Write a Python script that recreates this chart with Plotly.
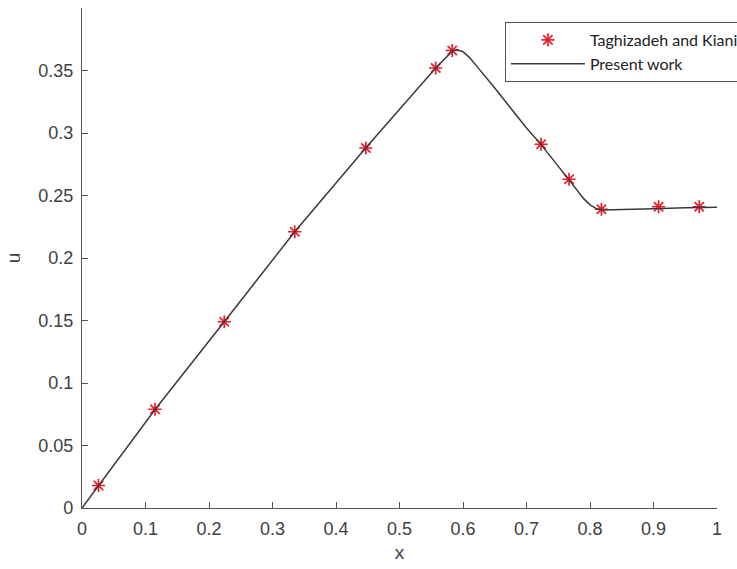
import plotly.graph_objects as go

# Reference data (Taghizadeh and Kiani)
ref_x = [0.026, 0.115, 0.224, 0.335, 0.447, 0.557, 0.583, 0.723, 0.767, 0.818, 0.908, 0.972]
ref_u = [0.018, 0.079, 0.149, 0.221, 0.288, 0.352, 0.366, 0.291, 0.263, 0.239, 0.241, 0.241]

# Present work solution
sol_x = [0.0, 0.026, 0.115, 0.224, 0.335, 0.447, 0.557, 0.583, 0.590, 0.600, 0.610,
         0.620, 0.650, 0.700, 0.723, 0.767, 0.790, 0.800, 0.810, 0.820, 0.850, 0.900,
         0.950, 1.0]
sol_u = [0.0, 0.0178, 0.0788, 0.1490, 0.2210, 0.2882, 0.3520, 0.3655, 0.3668, 0.3650,
         0.3605, 0.3545, 0.3360, 0.3040, 0.2907, 0.2625, 0.2475, 0.2425, 0.2395, 0.2385,
         0.2387, 0.2395, 0.2402, 0.2407]

x_ticks = [0, 0.1, 0.2, 0.3, 0.4, 0.5, 0.6, 0.7, 0.8, 0.9, 1]
y_ticks = [0, 0.05, 0.1, 0.15, 0.2, 0.25, 0.3, 0.35]

fig = go.Figure()
fig.add_trace(go.Scatter(
    x=ref_x, y=ref_u, mode="markers", name="Taghizadeh and Kiani",
    marker=dict(symbol="asterisk-open", size=11, color="#e8202a",
                line=dict(color="#e8202a", width=1.7)),
))
fig.add_trace(go.Scatter(
    x=sol_x, y=sol_u, mode="lines", name="Present work",
    line=dict(color="#3a3a3a", width=1.5),
))

axis_common = dict(
    showgrid=False, zeroline=False, showline=True, linecolor="#555555", linewidth=1.2,
    ticks="inside", ticklen=6, tickcolor="#555555", ticklabelstandoff=4,
    tickfont=dict(family="Liberation Sans, Arial", size=18, color="#404040"),
    title_font=dict(family="Liberation Sans, Arial", size=19, color="#404040"),
)

fig.update_layout(
    width=737, height=569,
    margin=dict(l=82, r=20, t=8, b=61, autoexpand=False),
    paper_bgcolor="white", plot_bgcolor="white",
    xaxis=dict(range=[0, 1], tickvals=x_ticks, ticktext=[str(t) for t in x_ticks],
               title=dict(text="x", standoff=7), **axis_common),
    yaxis=dict(range=[0, 0.4], tickvals=y_ticks, ticktext=[str(t) for t in y_ticks],
               title=dict(text="u", standoff=12), **axis_common),
    legend=dict(
        x=0.666, y=0.972, xanchor="left", yanchor="top",
        bordercolor="#555555", borderwidth=1, bgcolor="white",
        font=dict(family="Lato, Open Sans", size=16, color="#222222"),
        itemwidth=74, tracegroupgap=0,
    ),
    showlegend=True,
)

fig.write_html("out.html")
